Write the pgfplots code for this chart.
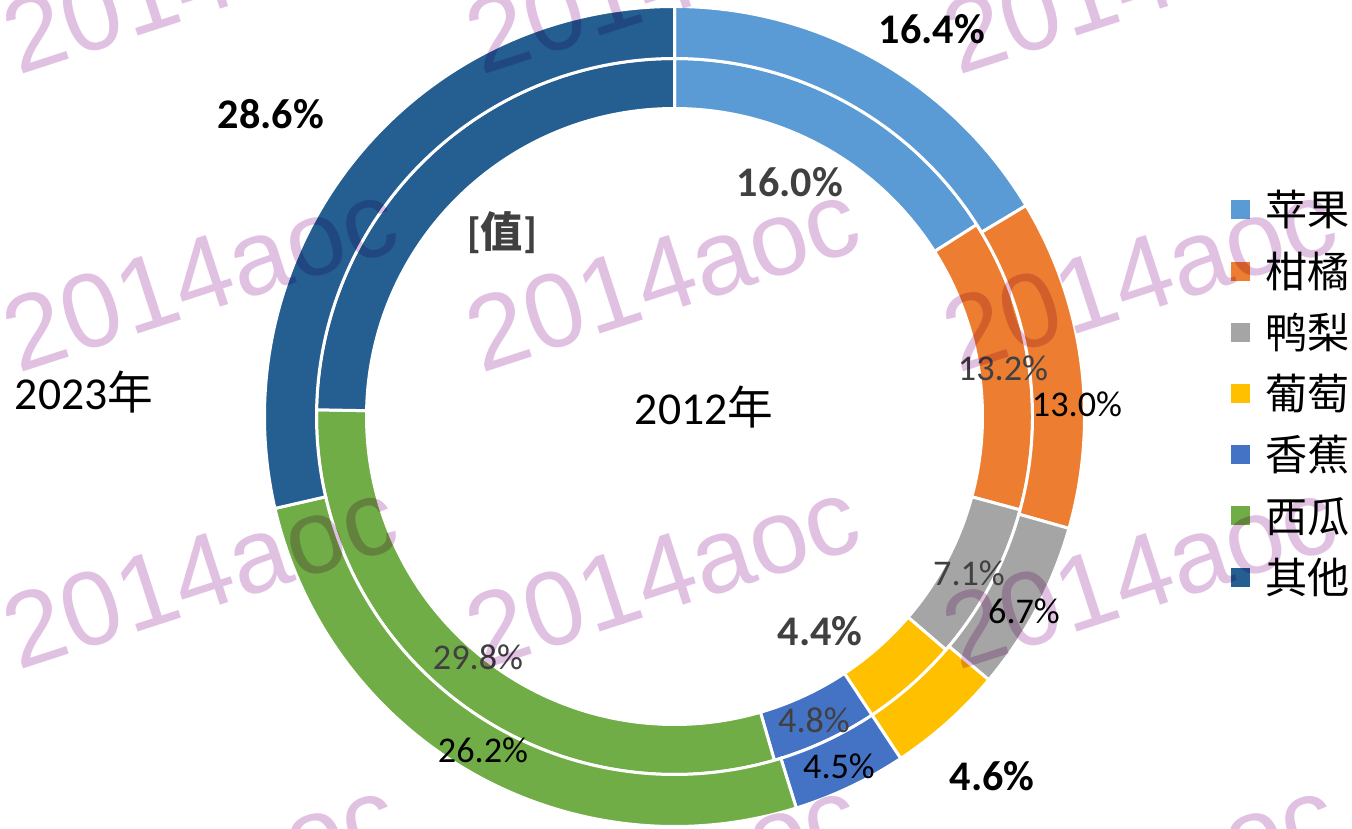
\documentclass[border=0pt]{standalone}
\usepackage{fontspec}
\setmainfont{Carlito}
\newfontfamily\cjk{Noto Sans CJK SC}
\newfontfamily\wmfont{Liberation Sans}
\usepackage{pgfplots}
\usepackage{pgfplotstable}
\pgfplotsset{compat=1.18}

\definecolor{c0}{HTML}{5B9BD5}
\definecolor{c1}{HTML}{ED7D31}
\definecolor{c2}{HTML}{A5A5A5}
\definecolor{c3}{HTML}{FFC000}
\definecolor{c4}{HTML}{4472C4}
\definecolor{c5}{HTML}{70AD47}
\definecolor{c6}{HTML}{255E91}
\definecolor{lblgray}{HTML}{404040}
\definecolor{wm}{RGB}{225,193,225}

% shares in percent, clockwise from 12 o'clock
\pgfplotstableread{
name y2023 y2012
苹果 16.4 16.0
柑橘 13.0 13.2
鸭梨 6.7 7.1
葡萄 4.6 4.4
香蕉 4.5 4.8
西瓜 26.2 29.8
其他 28.6 24.7
}\fruits

% #1 column, #2 inner radius, #3 outer radius
\newcommand\ring[3]{%
  \gdef\angA{90}%
  \foreach \i in {0,...,6}{%
    \pgfplotstablegetelem{\i}{#1}\of\fruits
    \pgfmathsetmacro\angB{\angA-3.6*\pgfplotsretval}%
    \filldraw[fill=c\i, draw=white, line width=0.85pt, line join=miter]
      (\angA:#3) arc[start angle=\angA, end angle=\angB, radius=#3]
      -- (\angB:#2) arc[start angle=\angB, end angle=\angA, radius=#2] -- cycle;
    \xdef\angA{\angB}%
  }%
}

\tikzset{
  lbo/.style={font=\bfseries\fontsize{12}{14}\selectfont, text=black, inner sep=0pt},
  lbi/.style={font=\bfseries\fontsize{12}{14}\selectfont, text=lblgray, inner sep=0pt},
  lo/.style={font=\fontsize{10.3}{12}\selectfont, text=black, inner sep=0pt},
  li/.style={font=\fontsize{10.3}{12}\selectfont, text=lblgray, inner sep=0pt},
  yr/.style={font=\fontsize{13}{15}\selectfont, text=black, inner sep=0pt},
}

\begin{document}
\begin{tikzpicture}
\begin{axis}[
    scale only axis,
    width=13.52cm, height=8.28cm,
    xmin=0, xmax=1352, ymin=0, ymax=828,
    hide axis,
    clip=false,
    legend image code/.code={\fill[#1] (0cm,-0.095cm) rectangle (0.19cm,0.095cm);},
    legend style={at={(axis cs:1231,648.6)}, anchor=north west,
        draw=none, fill=none, inner sep=0pt, outer sep=0pt,
        row sep=0pt, column sep=0.15cm,
        font=\cjk\fontsize{12}{14}\selectfont,
        nodes={inner sep=0pt, text height=0.466cm, text depth=0.146cm}},
    legend cell align=left,
]
\coordinate (o) at (axis cs:0,0);
\pgfplotsextra{%
  \begin{scope}[shift={(axis cs:674.5,411.5)}]
    \ring{y2012}{3.08cm}{3.58cm}
    \ring{y2023}{3.58cm}{4.10cm}
  \end{scope}%
}
\addlegendimage{draw=none, fill=c0}\addlegendentry{苹果}
\addlegendimage{draw=none, fill=c1}\addlegendentry{柑橘}
\addlegendimage{draw=none, fill=c2}\addlegendentry{鸭梨}
\addlegendimage{draw=none, fill=c3}\addlegendentry{葡萄}
\addlegendimage{draw=none, fill=c4}\addlegendentry{香蕉}
\addlegendimage{draw=none, fill=c5}\addlegendentry{西瓜}
\addlegendimage{draw=none, fill=c6}\addlegendentry{其他}

% data labels, 2023 (outer) and 2012 (inner)
\node[lbo] at (axis cs:932,799) {16.4\%};
\node[lo]  at (axis cs:1077,424) {13.0\%};
\node[lo]  at (axis cs:1024,217) {6.7\%};
\node[lbo] at (axis cs:992,52) {4.6\%};
\node[lo]  at (axis cs:839,62) {4.5\%};
\node[lo]  at (axis cs:483,78) {26.2\%};
\node[lbo] at (axis cs:271,714) {28.6\%};
\node[lbi] at (axis cs:790,646) {16.0\%};
\node[li]  at (axis cs:1003,460) {13.2\%};
\node[li]  at (axis cs:969,255) {7.1\%};
\node[lbi] at (axis cs:820,197) {4.4\%};
\node[li]  at (axis cs:814,108) {4.8\%};
\node[li]  at (axis cs:478,171) {29.8\%};
\node[lbi] at (axis cs:502,595) {[{\cjk 值}]};
\node[yr]  at (axis cs:84,436) {2023{\cjk 年}};
\node[yr]  at (axis cs:704,421) {2012{\cjk 年}};
\end{axis}

% watermark
\begin{scope}[shift={(o)}, x=0.01cm, y=0.01cm]
  \clip (0,0) rectangle (1352,828);
  \begin{scope}[blend mode=multiply]
    \foreach \wx in {18,481,958}{
      \foreach \wy in {753,455,157,-141}{
        \node[font=\wmfont\fontsize{30}{32}\selectfont, text=wm, rotate=18,
              anchor=base west, inner sep=0pt] at (\wx,\wy) {2014aoc};
      }
    }
  \end{scope}
\end{scope}
\pgfresetboundingbox
\path (o) rectangle ++(13.52cm,8.28cm);
\end{tikzpicture}
\end{document}
